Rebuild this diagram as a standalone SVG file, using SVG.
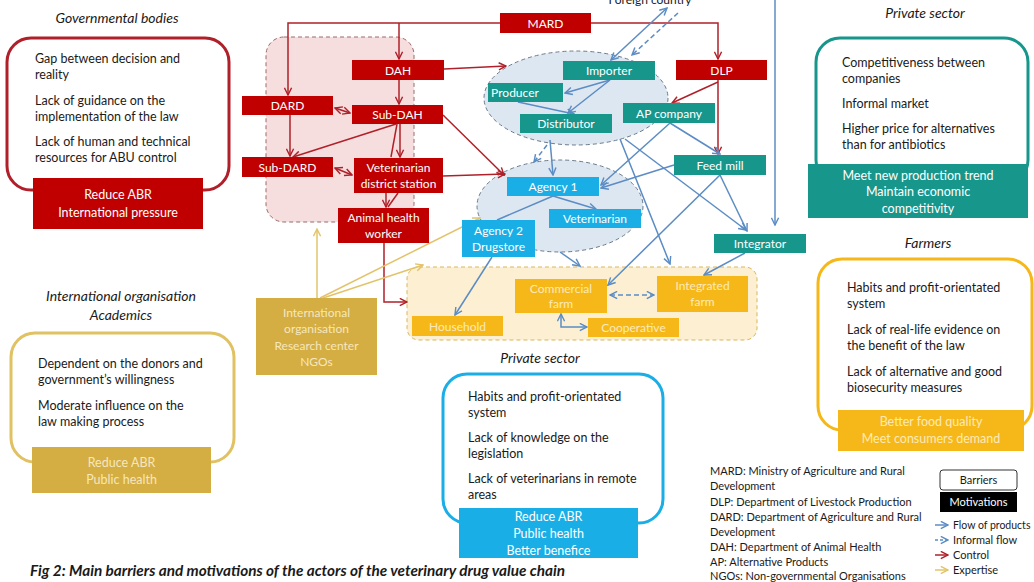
<svg xmlns="http://www.w3.org/2000/svg" width="1034" height="582" viewBox="0 0 1034 582">
<defs>
<style>
text{font-family:Lato,"Liberation Sans",sans-serif;}
.t{font-size:12.5px;fill:#1a1a1a;}
.h{font-size:14px;font-style:italic;fill:#1a1a1a;text-anchor:middle;}
.w{font-size:12px;fill:#ffffff;text-anchor:middle;}
.m{font-size:12.5px;fill:#ffffff;text-anchor:middle;}
.lg{font-size:11px;fill:#1a1a1a;}
.red{fill:#c00000;}
.teal{fill:#17968c;}
.blue{fill:#1aaee6;}
.farm{fill:#f6b819;}
.gold{fill:#d4ad43;}
.lt{fill:#fdeab8;}
.lg2{fill:#f6e7bd;}
.cb{fill:none;stroke:#5b8cc4;stroke-width:1.5;}
.cd{fill:none;stroke:#5b8cc4;stroke-width:1.5;stroke-dasharray:5 3;}
.cr{fill:none;stroke:#b0202a;stroke-width:1.5;}
.cy{fill:none;stroke:#e3c36a;stroke-width:1.5;}
</style>
<marker id="ab" viewBox="0 0 10 10" refX="9" refY="5" markerWidth="9" markerHeight="9" markerUnits="userSpaceOnUse" orient="auto-start-reverse"><path d="M1,1 L9,5 L1,9" fill="none" stroke="#5b8cc4" stroke-width="1.6"/></marker>
<marker id="ar" viewBox="0 0 10 10" refX="9" refY="5" markerWidth="9" markerHeight="9" markerUnits="userSpaceOnUse" orient="auto-start-reverse"><path d="M1,1 L9,5 L1,9" fill="none" stroke="#b0202a" stroke-width="1.6"/></marker>
<marker id="ay" viewBox="0 0 10 10" refX="9" refY="5" markerWidth="9" markerHeight="9" markerUnits="userSpaceOnUse" orient="auto-start-reverse"><path d="M1,1 L9,5 L1,9" fill="none" stroke="#e3c36a" stroke-width="1.6"/></marker>
</defs>
<rect width="1034" height="582" fill="#ffffff"/>

<g id="regions">
<rect x="266" y="37" width="148" height="185" rx="18" fill="#f7dede" stroke="#9a6a6a" stroke-width="1" stroke-dasharray="4 3"/>
<ellipse cx="576" cy="98" rx="92" ry="47" fill="#dde7f2" stroke="#6a7a8a" stroke-width="1" stroke-dasharray="4 3"/>
<ellipse cx="560" cy="206" rx="83" ry="46" fill="#dde7f2" stroke="#6a7a8a" stroke-width="1" stroke-dasharray="4 3"/>
<rect x="407" y="267" width="350" height="73" rx="12" fill="#fdf0d2" stroke="#d9b65b" stroke-width="1" stroke-dasharray="4 3"/>
</g>

<g id="connectors">
<!-- control -->
<path class="cr" d="M500,23 H288 V95" marker-end="url(#ar)"/>
<path class="cr" d="M399,23 V59" marker-end="url(#ar)"/>
<path class="cr" d="M591,23 H718 V59" marker-end="url(#ar)"/>
<path class="cr" d="M399,80 V104" marker-end="url(#ar)"/>
<path class="cr" d="M335,108 L350,113" marker-start="url(#ar)" marker-end="url(#ar)"/>
<path class="cr" d="M290,115 V156" marker-end="url(#ar)"/>
<path class="cr" d="M396,124 L293,157" marker-end="url(#ar)"/>
<path class="cr" d="M400,124 V157" marker-end="url(#ar)"/>
<path class="cr" d="M397,124 L391,157"/>
<path class="cr" d="M335,168 L352,175" marker-start="url(#ar)" marker-end="url(#ar)"/>
<path class="cr" d="M386,193 V207" marker-end="url(#ar)"/>
<path class="cr" d="M398,193 L388,207"/>
<path class="cr" d="M444,69 L506,66" marker-end="url(#ar)"/>
<path class="cr" d="M443,115 L504,175" marker-end="url(#ar)"/>
<path class="cr" d="M443,176 L505,174" marker-end="url(#ar)"/>
<path class="cr" d="M384,243 V302 H407" marker-end="url(#ar)"/>
<path class="cr" d="M718,80 V154" marker-end="url(#ar)"/>
<path class="cr" d="M718,82 L672,103" marker-end="url(#ar)"/>
<!-- expertise -->
<path class="cy" d="M317,298 V229" marker-end="url(#ay)"/>
<path class="cy" d="M320,298 L480,218" marker-end="url(#ay)"/>
<path class="cy" d="M323,298 L423,265" marker-end="url(#ay)"/>
<!-- flow of products -->
<path class="cb" d="M611,60 L667,8" marker-start="url(#ab)" marker-end="url(#ab)"/>
<path class="cd" d="M678,13 L632,55" marker-end="url(#ab)"/>
<path class="cb" d="M775,0 V225" marker-end="url(#ab)"/>
<path class="cb" d="M610,80 L565,93" marker-end="url(#ab)"/>
<path class="cb" d="M610,80 L568,113" marker-end="url(#ab)"/>
<path class="cb" d="M518,102 L574,114" marker-end="url(#ab)"/>
<path class="cd" d="M547,145 L534,162" marker-end="url(#ab)"/>
<path class="cb" d="M550,140 L553,175" marker-end="url(#ab)"/>
<path class="cb" d="M670,123 L601,185" marker-end="url(#ab)"/>
<path class="cb" d="M670,123 L720,154" marker-end="url(#ab)"/>
<path class="cb" d="M674,165 L601,188" marker-end="url(#ab)"/>
<path class="cb" d="M720,175 L747,231" marker-end="url(#ab)"/>
<path class="cb" d="M720,175 L608,285" marker-end="url(#ab)"/>
<path class="cb" d="M620,139 L670,264" marker-end="url(#ab)"/>
<path class="cb" d="M625,139 L746,230" marker-end="url(#ab)"/>
<path class="cb" d="M553,196 L596,209" marker-end="url(#ab)"/>
<path class="cb" d="M553,196 L497,220"/>
<path class="cb" d="M492,257 L455,315" marker-end="url(#ab)"/>
<path class="cb" d="M560,252 L580,266" marker-end="url(#ab)"/>
<path class="cb" d="M745,253 L704,275" marker-end="url(#ab)"/>
<path class="cd" d="M610,295 H654" marker-start="url(#ab)" marker-end="url(#ab)"/>
<path class="cb" d="M561,314 V327 H587" marker-start="url(#ab)" marker-end="url(#ab)"/>
</g>

<g id="n-mard"><rect class="red" x="500" y="13" width="91" height="20"/><text class="w" x="545.5" y="27.5">MARD</text></g>
<g id="n-dah"><rect class="red" x="352" y="60" width="92" height="20"/><text class="w" x="398" y="74.5">DAH</text></g>
<g id="n-dard"><rect class="red" x="242" y="96" width="91" height="19"/><text class="w" x="287.5" y="110">DARD</text></g>
<g id="n-subdah"><rect class="red" x="352" y="105" width="91" height="19"/><text class="w" x="397.5" y="119">Sub-DAH</text></g>
<g id="n-subdard"><rect class="red" x="242" y="157" width="91" height="20"/><text class="w" x="287.5" y="171.5">Sub-DARD</text></g>
<g id="n-vds"><rect class="red" x="354" y="158" width="89" height="35"/><text class="w" x="398.5" y="172">Veterinarian</text><text class="w" x="398.5" y="187.5">district station</text></g>
<g id="n-ahw"><rect class="red" x="338" y="208" width="91" height="35"/><text class="w" x="383.5" y="222">Animal health</text><text class="w" x="383.5" y="238">worker</text></g>
<g id="n-dlp"><rect class="red" x="676" y="60" width="91" height="20"/><text class="w" x="721.5" y="74.5">DLP</text></g>
<g id="n-importer"><rect class="teal" x="563" y="61" width="92" height="19"/><text class="w" x="609" y="75">Importer</text></g>
<g id="n-producer"><rect class="teal" x="488" y="83" width="75" height="19"/><text class="w" x="515" y="97">Producer</text></g>
<g id="n-distributor"><rect class="teal" x="520" y="114" width="92" height="19"/><text class="w" x="566" y="128">Distributor</text></g>
<g id="n-apcompany"><rect class="teal" x="623" y="103" width="92" height="20"/><text class="w" x="669" y="117.5">AP company</text></g>
<g id="n-feedmill"><rect class="teal" x="674" y="155" width="92" height="20"/><text class="w" x="720" y="169.5">Feed mill</text></g>
<g id="n-integrator"><rect class="teal" x="714" y="234" width="92" height="19"/><text class="w" x="760" y="248">Integrator</text></g>
<g id="n-agency1"><rect class="blue" x="507" y="177" width="92" height="19"/><text class="w" x="553" y="191">Agency 1</text></g>
<g id="n-veterinarian"><rect class="blue" x="549" y="209" width="92" height="19"/><text class="w" x="595" y="223">Veterinarian</text></g>
<g id="n-agency2"><rect class="blue" x="462" y="220" width="73" height="37"/><text class="w" x="498.5" y="235">Agency 2</text><text class="w" x="498.5" y="251">Drugstore</text></g>
<g id="n-commercial"><rect class="farm" x="515" y="279" width="92" height="34"/><text class="w lt" x="561" y="293">Commercial</text><text class="w lt" x="561" y="308">farm</text></g>
<g id="n-integrated"><rect class="farm" x="657" y="276" width="91" height="36"/><text class="w lt" x="702.5" y="290">Integrated</text><text class="w lt" x="702.5" y="306">farm</text></g>
<g id="n-household"><rect class="farm" x="412" y="316" width="91" height="20"/><text class="w lt" x="457.5" y="330.5">Household</text></g>
<g id="n-cooperative"><rect class="farm" x="588" y="318" width="91" height="19"/><text class="w lt" x="633.5" y="332">Cooperative</text></g>
<g id="n-intorg"><rect class="gold" x="256" y="298" width="121" height="77"/><text class="w lg2" x="316.5" y="317">International</text><text class="w lg2" x="316.5" y="333">organisation</text><text class="w lg2" x="316.5" y="350">Research center</text><text class="w lg2" x="316.5" y="366">NGOs</text></g>
<g id="n-foreign"><text x="650" y="4" class="t" text-anchor="middle" style="font-size:12px">Foreign country</text></g>

<g id="p-gov">
<text class="h" x="117" y="23">Governmental bodies</text>
<rect x="7" y="38" width="222" height="152" rx="24" fill="#ffffff" stroke="#b0202a" stroke-width="3"/>
<text class="t" x="35" y="63">Gap between decision and</text>
<text class="t" x="35" y="79">reality</text>
<text class="t" x="35" y="105">Lack of guidance on the</text>
<text class="t" x="35" y="121">implementation of the law</text>
<text class="t" x="35" y="146">Lack of human and technical</text>
<text class="t" x="35" y="162">resources for ABU control</text>
<rect class="red" x="33" y="178" width="170" height="51"/>
<text class="m" x="118" y="199">Reduce ABR</text>
<text class="m" x="118" y="217">International pressure</text>
</g>

<g id="p-priv1">
<text class="h" x="925" y="18">Private sector</text>
<rect x="816" y="38" width="212" height="146" rx="24" fill="#ffffff" stroke="#17968c" stroke-width="3"/>
<text class="t" x="842" y="67">Competitiveness between</text>
<text class="t" x="842" y="83">companies</text>
<text class="t" x="842" y="108">Informal market</text>
<text class="t" x="842" y="133">Higher price for alternatives</text>
<text class="t" x="842" y="149">than for antibiotics</text>
<rect class="teal" x="808" y="164" width="220" height="54"/>
<text class="m" x="918" y="180">Meet new production trend</text>
<text class="m" x="918" y="196">Maintain economic</text>
<text class="m" x="918" y="213">competitivity</text>
</g>

<g id="p-farmers">
<text class="h" x="928" y="248">Farmers</text>
<rect x="818" y="259" width="214" height="171" rx="24" fill="#ffffff" stroke="#f6b819" stroke-width="3"/>
<text class="t" x="847" y="292">Habits and profit-orientated</text>
<text class="t" x="847" y="308">system</text>
<text class="t" x="847" y="334">Lack of real-life evidence on</text>
<text class="t" x="847" y="350">the benefit of the law</text>
<text class="t" x="847" y="376">Lack of alternative and good</text>
<text class="t" x="847" y="392">biosecurity measures</text>
<rect class="farm" x="838" y="410" width="186" height="41"/>
<text class="m lt" x="931" y="426">Better food quality</text>
<text class="m lt" x="931" y="443">Meet consumers demand</text>
</g>

<g id="p-intorg">
<text class="h" x="121" y="301">International organisation</text>
<text class="h" x="121" y="320">Academics</text>
<rect x="11" y="333" width="223" height="129" rx="24" fill="#ffffff" stroke="#e0c262" stroke-width="3"/>
<text class="t" x="38" y="368">Dependent on the donors and</text>
<text class="t" x="38" y="384">government’s willingness</text>
<text class="t" x="38" y="410">Moderate influence on the</text>
<text class="t" x="38" y="426">law making process</text>
<rect class="gold" x="32" y="447" width="179" height="46"/>
<text class="m lg2" x="121.5" y="467">Reduce ABR</text>
<text class="m lg2" x="121.5" y="484">Public health</text>
</g>

<g id="p-priv2">
<text class="h" x="540" y="363">Private sector</text>
<rect x="443" y="374" width="220" height="149" rx="24" fill="#ffffff" stroke="#1aaee6" stroke-width="3"/>
<text class="t" x="468" y="401">Habits and profit-orientated</text>
<text class="t" x="468" y="417">system</text>
<text class="t" x="468" y="442">Lack of knowledge on the</text>
<text class="t" x="468" y="458">legislation</text>
<text class="t" x="468" y="483">Lack of veterinarians in remote</text>
<text class="t" x="468" y="499">areas</text>
<rect class="blue" x="459" y="508" width="179" height="50"/>
<text class="m" x="548.5" y="521">Reduce ABR</text>
<text class="m" x="548.5" y="538">Public health</text>
<text class="m" x="548.5" y="555">Better benefice</text>
</g>

<text x="30" y="576" textLength="535" lengthAdjust="spacingAndGlyphs" style="font-size:14.5px;font-weight:bold;font-style:italic;fill:#1a1a1a">Fig 2: Main barriers and motivations of the actors of the veterinary drug value chain</text>

<g id="legend">
<text class="lg" x="710" y="475">MARD: Ministry of Agriculture and Rural</text>
<text class="lg" x="710" y="490">Development</text>
<text class="lg" x="710" y="506">DLP: Department of Livestock Production</text>
<text class="lg" x="710" y="521">DARD: Department of Agriculture and Rural</text>
<text class="lg" x="710" y="536">Development</text>
<text class="lg" x="710" y="551">DAH: Department of Animal Health</text>
<text class="lg" x="710" y="566">AP: Alternative Products</text>
<text class="lg" x="710" y="580">NGOs: Non-governmental Organisations</text>
<rect x="940" y="470" width="77" height="20" rx="3" fill="#ffffff" stroke="#333333" stroke-width="1"/>
<text class="lg" x="978.5" y="484" text-anchor="middle">Barriers</text>
<rect x="940" y="492" width="77" height="20" fill="#000000"/>
<text class="lg" x="978.5" y="506" text-anchor="middle" style="fill:#ffffff">Motivations</text>
<path class="cb" d="M935,525 H948" marker-end="url(#ab)"/>
<text class="lg" x="953" y="529" style="font-size:10.5px">Flow of products</text>
<path class="cd" d="M935,540 H948" style="stroke-dasharray:3 2" marker-end="url(#ab)"/>
<text class="lg" x="953" y="544">Informal flow</text>
<path class="cr" d="M935,555 H948" marker-end="url(#ar)"/>
<text class="lg" x="953" y="559">Control</text>
<path class="cy" d="M935,570 H948" marker-end="url(#ay)"/>
<text class="lg" x="953" y="574">Expertise</text>
</g>
</svg>
